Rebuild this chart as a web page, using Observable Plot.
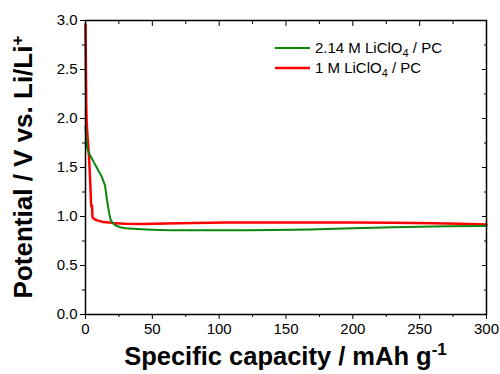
<!DOCTYPE html>
<html><head><meta charset="utf-8">
<script src="https://cdn.jsdelivr.net/npm/d3@7"></script>
<script src="https://cdn.jsdelivr.net/npm/@observablehq/plot@0.6"></script>
<style>body{margin:0;background:#fff} #chart{width:500px;height:374px}</style>
</head><body><div id="chart"></div>
<script>
const seriesNames = ["2.14 M LiClO4 / PC", "1 M LiClO4 / PC"];
const seriesColors = ["#0a870a", "#ff0000"];

const greenX = [0, 0.3, 0.8, 1.5, 2.5, 4, 6, 8, 10, 12, 13.7, 14.5, 15.2, 16.2, 17.5, 18.7, 20, 21.5, 23, 26, 30, 36, 42, 50, 63, 80, 100, 120, 140, 168, 200, 230, 250, 270, 300];
const greenY = [1.92, 1.85, 1.75, 1.68, 1.65, 1.61, 1.56, 1.51, 1.46, 1.41, 1.35, 1.32, 1.26, 1.16, 1.05, 0.97, 0.94, 0.92, 0.905, 0.89, 0.88, 0.875, 0.87, 0.865, 0.86, 0.86, 0.86, 0.86, 0.862, 0.868, 0.88, 0.89, 0.895, 0.9, 0.903];

const redX = [0, 0.3, 0.6, 0.9, 1.6, 2.5, 3.2, 3.7, 4.1, 4.4, 4.9, 5.1, 5.3, 6, 7.5, 10, 13, 17.5, 22, 30, 42, 60, 81, 105, 140, 168, 200, 230, 260, 280, 300];
const redY = [2.96, 2.5, 2.1, 1.95, 1.8, 1.64, 1.45, 1.30, 1.15, 1.10, 1.11, 1.03, 0.99, 0.98, 0.967, 0.955, 0.945, 0.94, 0.93, 0.925, 0.923, 0.928, 0.933, 0.94, 0.94, 0.94, 0.94, 0.935, 0.93, 0.925, 0.918];

const xMajor = [0, 50, 100, 150, 200, 250, 300];
const xMinor = [25, 75, 125, 175, 225, 275];
const yMajor = [0, 0.5, 1.0, 1.5, 2.0, 2.5, 3.0];
const yMinor = [0.25, 0.75, 1.25, 1.75, 2.25, 2.75];

const data = [
  ...greenX.map((x, i) => ({series: seriesNames[0], x, y: greenY[i]})),
  ...redX.map((x, i) => ({series: seriesNames[1], x, y: redY[i]}))
];

const blank = () => "";
const plot = Plot.plot({
  width: 500, height: 374,
  marginTop: 20, marginBottom: 60, marginLeft: 85, marginRight: 14,
  style: {fontFamily: "'Liberation Sans', Arial, sans-serif", fontSize: "15px", color: "#000", background: "#fff"},
  x: {domain: [0, 300], label: null},
  y: {domain: [0, 3], label: null},
  marks: [
    Plot.axisX({ticks: xMajor, tickSize: 5, tickPadding: 4, tickFormat: d => String(d), label: null}),
    Plot.axisX({ticks: xMinor, tickSize: 3, tickFormat: blank, label: null}),
    Plot.axisX({anchor: "top", ticks: xMajor, tickSize: -5, tickFormat: blank, label: null}),
    Plot.axisX({anchor: "top", ticks: xMinor, tickSize: -3, tickFormat: blank, label: null}),
    Plot.axisY({ticks: yMajor, tickSize: 5, tickPadding: 3, tickFormat: d3.format(".1f"), label: null}),
    Plot.axisY({ticks: yMinor, tickSize: 3, tickFormat: blank, label: null}),
    Plot.axisY({anchor: "right", ticks: yMajor, tickSize: -5, tickFormat: blank, label: null}),
    Plot.axisY({anchor: "right", ticks: yMinor, tickSize: -3, tickFormat: blank, label: null}),
    Plot.line(data.filter(d => d.series === seriesNames[1]), {x: "x", y: "y", stroke: seriesColors[1], strokeWidth: 2.5, curve: "linear"}),
    Plot.line(data.filter(d => d.series === seriesNames[0]), {x: "x", y: "y", stroke: seriesColors[0], strokeWidth: 2, curve: "linear"}),
    Plot.frame({stroke: "#000", strokeWidth: 1.5})
  ]
});
document.getElementById("chart").append(plot);

const svg = d3.select(plot);
const FONT = "'Liberation Sans', Arial, sans-serif";
// Y axis title
const yt = svg.append("text")
  .attr("transform", "translate(32,167) rotate(-90)")
  .attr("text-anchor", "middle")
  .attr("font-weight", "bold").attr("font-size", 26)
  .attr("font-family", FONT)
  .attr("fill", "#000");
yt.append("tspan").text("Potential / V vs. Li/Li");
yt.append("tspan").attr("dy", -9).attr("font-size", 17).text("+");

// X axis title
const xt = svg.append("text")
  .attr("x", 285.5).attr("y", 365)
  .attr("text-anchor", "middle")
  .attr("font-weight", "bold").attr("font-size", 25.5)
  .attr("font-family", FONT)
  .attr("fill", "#000");
xt.append("tspan").text("Specific capacity / mAh g");
xt.append("tspan").attr("dy", -10).attr("font-size", 17).text("-1");

// Legend
const legendRows = [
  {pre: "2.14 M LiClO", sub: "4", post: " / PC", color: seriesColors[0], w: 2},
  {pre: "1 M LiClO", sub: "4", post: " / PC", color: seriesColors[1], w: 2.5}
];
legendRows.forEach((r, i) => {
  const yy = 48 + i * 20;
  svg.append("line").attr("x1", 275).attr("x2", 310).attr("y1", yy).attr("y2", yy)
    .attr("stroke", r.color).attr("stroke-width", r.w);
  const t = svg.append("text").attr("x", 315).attr("y", yy + 5)
    .attr("text-anchor", "start")
    .attr("font-size", 15).attr("font-family", FONT).attr("fill", "#000");
  t.append("tspan").text(r.pre);
  t.append("tspan").attr("dy", 4).attr("font-size", 11).text(r.sub);
  t.append("tspan").attr("dy", -4).text(r.post);
});
</script>
</body></html>
